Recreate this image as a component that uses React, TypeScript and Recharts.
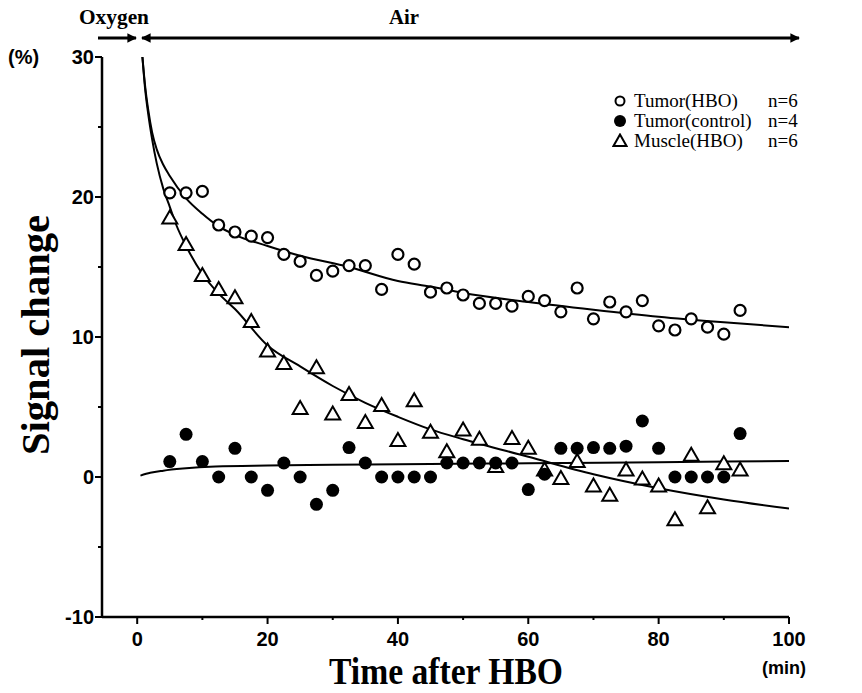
import { ComposedChart, Scatter, Line, XAxis, YAxis } from 'recharts';

// sampling times (min after HBO)
const times = [
  5, 7.5, 10, 12.5, 15, 17.5, 20, 22.5, 25, 27.5, 30, 32.5, 35, 37.5, 40, 42.5, 45, 47.5,
  50, 52.5, 55, 57.5, 60, 62.5, 65, 67.5, 70, 72.5, 75, 77.5, 80, 82.5, 85, 87.5, 90, 92.5,
];

const tumorHbo = [
  20.3, 20.3, 20.4, 18.0, 17.5, 17.2, 17.1, 15.9, 15.4, 14.4, 14.7, 15.1, 15.1, 13.4, 15.9, 15.2, 13.2, 13.5,
  13.0, 12.4, 12.4, 12.2, 12.9, 12.6, 11.8, 13.5, 11.3, 12.5, 11.8, 12.6, 10.8, 10.5, 11.3, 10.7, 10.2, 11.9,
];

const tumorControl = [
  1.1, 3.05, 1.1, 0, 2.05, 0, -0.95, 1.0, 0, -1.95, -0.95, 2.1, 1.0, 0, 0, 0, 0, 1.0,
  1.0, 1.0, 1.0, 1.0, -0.9, 0.2, 2.05, 2.05, 2.1, 2.05, 2.2, 4.0, 2.05, 0, 0, 0, 0, 3.1,
];

const muscleHbo = [
  18.5, 16.6, 14.4, 13.4, 12.8, 11.1, 9.0, 8.1, 4.9, 7.8, 4.5, 5.9, 3.9, 5.1, 2.6, 5.45, 3.2, 1.8,
  3.35, 2.7, 0.75, 2.75, 2.05, 0.5, -0.1, 1.1, -0.65, -1.3, 0.5, -0.15, -0.65, -3.05, 1.55, -2.2, 0.95, 0.5,
];

// fitted curves
const fitTumorHboX = [0.8, 1.2, 1.7, 2.3, 3, 4, 5, 7.5, 10, 12.5, 15, 20, 25, 32.5, 40, 45, 50, 60, 70, 80, 90, 100];
const fitTumorHboY = [30, 28.0, 26.2, 24.6, 23.4, 22.3, 21.5, 19.9, 18.8, 17.9, 17.3, 16.5, 15.8, 15.0, 14.0, 13.6, 13.15, 12.5, 11.95, 11.45, 11.05, 10.7];

const fitMuscleX = [0.8, 1.2, 1.7, 2.3, 3, 4, 5, 6, 7.5, 10, 12.5, 15, 20, 25, 30, 35, 40, 45, 50, 60, 70, 80, 90, 100];
const fitMuscleY = [30, 27.8, 25.9, 24.1, 22.4, 20.6, 19.3, 18.0, 16.5, 14.5, 13.1, 12.0, 9.4, 7.9, 6.5, 5.3, 4.3, 3.4, 2.7, 1.45, 0.2, -0.8, -1.6, -2.25];

const fitControlX = [0.5, 2, 4, 7, 12, 20, 30, 45, 60, 80, 100];
const fitControlY = [0.1, 0.3, 0.45, 0.6, 0.75, 0.82, 0.87, 0.93, 0.98, 1.06, 1.14];

const xTicks = [0, 10, 20, 30, 40, 50, 60, 70, 80, 90, 100];
const yTicks = [-10, -5, 0, 5, 10, 15, 20, 25, 30];

const legendNames = ['Tumor(HBO)', 'Tumor(control)', 'Muscle(HBO)'];
const legendN = ['n=6', 'n=4', 'n=6'];

const toPoints = (xs: number[], ys: number[]) => xs.map((x, i) => ({ x, y: ys[i] }));

const tickFont = '"Liberation Sans", Arial, sans-serif';
const serif = '"Liberation Serif", "Times New Roman", serif';

function OpenCircle({ cx, cy }: any) {
  return <circle cx={cx} cy={cy} r={5.5} fill="#fff" stroke="#000" strokeWidth={2.2} />;
}
function FilledCircle({ cx, cy }: any) {
  return <circle cx={cx} cy={cy} r={6.5} fill="#000" />;
}
function Triangle({ cx, cy }: any) {
  return (
    <path
      d={`M${cx},${cy - 7.5} L${cx + 7.5},${cy + 5.5} L${cx - 7.5},${cy + 5.5} Z`}
      fill="#fff"
      stroke="#000"
      strokeWidth={2}
    />
  );
}

function XTick({ x, y, payload }: any) {
  const major = payload.value % 20 === 0;
  return (
    <g>
      <line x1={x} y1={y} x2={x} y2={y + (major ? 7 : 3)} stroke="#000" strokeWidth={2} />
      {major && (
        <text x={x} y={y + 29} textAnchor="middle" fontFamily={tickFont} fontWeight="bold" fontSize={20}>
          {payload.value}
        </text>
      )}
    </g>
  );
}

function YTick({ x, y, payload }: any) {
  const major = payload.value % 10 === 0;
  return (
    <g>
      <line x1={x} y1={y} x2={x - (major ? 7 : 4)} y2={y} stroke="#000" strokeWidth={2} />
      {major && (
        <text x={x - 8} y={y + 7} textAnchor="end" fontFamily={tickFont} fontWeight="bold" fontSize={20}>
          {payload.value}
        </text>
      )}
    </g>
  );
}

function LegendBox() {
  const markers = [
    <circle cx={8} cy={8} r={4.5} fill="#fff" stroke="#000" strokeWidth={2} />,
    <circle cx={8} cy={8} r={6} fill="#000" />,
    <path d="M8,1.5 L14.5,13 L1.5,13 Z" fill="#fff" stroke="#000" strokeWidth={2} />,
  ];
  return (
    <div
      style={{
        position: 'absolute',
        left: 612,
        top: 91,
        fontFamily: serif,
        fontSize: 19,
        lineHeight: '20px',
      }}
    >
      {legendNames.map((name, i) => (
        <div key={name} style={{ display: 'flex', alignItems: 'center', height: 20 }}>
          <svg width={16} height={16} style={{ marginRight: 6 }}>
            {markers[i]}
          </svg>
          <span style={{ width: 134 }}>{name}</span>
          <span>{legendN[i]}</span>
        </div>
      ))}
    </div>
  );
}

export default function App() {
  return (
    <div style={{ position: 'absolute', left: 0, top: 0, width: 862, height: 693, background: '#fff' }}>
      <ComposedChart width={862} height={693} margin={{ top: 57, right: 73, bottom: 0, left: 0 }}>
        <XAxis
          type="number"
          dataKey="x"
          domain={[-5.4, 100]}
          ticks={xTicks}
          tick={<XTick />}
          tickLine={false}
          tickSize={0}
          tickMargin={0}
          height={76}
          axisLine={{ stroke: '#000', strokeWidth: 2.5 }}
          allowDataOverflow
        />
        <YAxis
          type="number"
          dataKey="y"
          domain={[-10, 30]}
          ticks={yTicks}
          tick={<YTick />}
          tickLine={false}
          tickSize={0}
          tickMargin={0}
          width={102}
          axisLine={{ stroke: '#000', strokeWidth: 2.5 }}
          allowDataOverflow
        />
        <Line data={toPoints(fitTumorHboX, fitTumorHboY)} dataKey="y" type="monotone" stroke="#000" strokeWidth={2} dot={false} isAnimationActive={false} />
        <Line data={toPoints(fitMuscleX, fitMuscleY)} dataKey="y" type="monotone" stroke="#000" strokeWidth={2} dot={false} isAnimationActive={false} />
        <Line data={toPoints(fitControlX, fitControlY)} dataKey="y" type="monotone" stroke="#000" strokeWidth={2} dot={false} isAnimationActive={false} />
        <Scatter name="Muscle(HBO)" data={toPoints(times, muscleHbo)} dataKey="y" shape={<Triangle />} isAnimationActive={false} />
        <Scatter name="Tumor(control)" data={toPoints(times, tumorControl)} dataKey="y" shape={<FilledCircle />} isAnimationActive={false} />
        <Scatter name="Tumor(HBO)" data={toPoints(times, tumorHbo)} dataKey="y" shape={<OpenCircle />} isAnimationActive={false} />
      </ComposedChart>

      <LegendBox />

      <svg width={862} height={693} style={{ position: 'absolute', left: 0, top: 0, pointerEvents: 'none' }}>
        <defs>
          <marker id="ah" viewBox="0 0 10 10" refX="9" refY="5" markerWidth="3.2" markerHeight="3.2" orient="auto-start-reverse">
            <path d="M0,0 L10,5 L0,10 Z" fill="#000" />
          </marker>
        </defs>
        <text x={79} y={24} textLength={70} lengthAdjust="spacingAndGlyphs" fontFamily={serif} fontWeight="bold" fontSize={22}>
          Oxygen
        </text>
        <text x={389} y={24} textLength={30} lengthAdjust="spacingAndGlyphs" fontFamily={serif} fontWeight="bold" fontSize={22}>
          Air
        </text>
        <line x1={98} y1={38} x2={136} y2={38} stroke="#000" strokeWidth={3} markerEnd="url(#ah)" />
        <line x1={142} y1={38} x2={799} y2={38} stroke="#000" strokeWidth={3} markerStart="url(#ah)" markerEnd="url(#ah)" />
        <text x={8} y={64} fontFamily={tickFont} fontWeight="bold" fontSize={20}>(%)</text>
        <text
          x={49}
          y={335}
          transform="rotate(-90 49 335)"
          textAnchor="middle"
          textLength={240}
          lengthAdjust="spacingAndGlyphs"
          fontFamily={serif}
          fontWeight="bold"
          fontSize={40}
        >
          Signal change
        </text>
        <text
          x={446}
          y={684}
          textAnchor="middle"
          textLength={234}
          lengthAdjust="spacingAndGlyphs"
          fontFamily={serif}
          fontWeight="bold"
          fontSize={38}
        >
          Time after HBO
        </text>
        <text x={784} y={674} textAnchor="middle" fontFamily={tickFont} fontWeight="bold" fontSize={18}>
          (min)
        </text>
      </svg>
    </div>
  );
}
